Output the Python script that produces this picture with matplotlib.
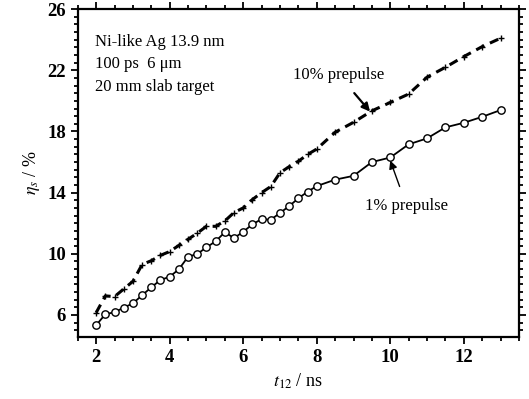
import numpy as np
import matplotlib
matplotlib.use("Agg")
import matplotlib.pyplot as plt
from matplotlib.ticker import MultipleLocator

# Data
t_1pct = [2.0, 2.25, 2.5, 2.75, 3.0, 3.25, 3.5, 3.75, 4.0, 4.25, 4.5, 4.75,
          5.0, 5.25, 5.5, 5.75, 6.0, 6.25, 6.5, 6.75, 7.0, 7.25, 7.5, 7.75,
          8.0, 8.5, 9.0, 9.5, 10.0, 10.5, 11.0, 11.5, 12.0, 12.5, 13.0]
eta_1pct = [5.33, 6.05, 6.18, 6.48, 6.76, 7.29, 7.81, 8.29, 8.50, 8.99, 9.81, 9.99,
            10.42, 10.82, 11.41, 11.03, 11.44, 11.93, 12.27, 12.23, 12.67, 13.12, 13.63, 14.06,
            14.43, 14.85, 15.10, 16.00, 16.30, 17.16, 17.55, 18.27, 18.57, 18.96, 19.40]

t_10pct = [2.0, 2.25, 2.5, 2.75, 3.0, 3.25, 3.5, 3.75, 4.0, 4.25, 4.5, 4.75,
           5.0, 5.25, 5.5, 5.75, 6.0, 6.25, 6.5, 6.75, 7.0, 7.25, 7.5, 7.75,
           8.0, 8.5, 9.0, 9.5, 10.0, 10.5, 11.0, 11.5, 12.0, 12.5, 13.0]
eta_10pct = [6.15, 7.25, 7.2, 7.7, 8.2, 9.3, 9.55, 9.9, 10.15, 10.55, 10.95, 11.35,
             11.8, 11.8, 12.15, 12.7, 13.0, 13.55, 14.0, 14.4, 15.3, 15.7, 16.05, 16.5,
             16.85, 17.95, 18.6, 19.35, 19.9, 20.45, 21.55, 22.2, 22.9, 23.55, 24.1]

plt.rcParams['font.family'] = ['Liberation Serif', 'DejaVu Serif']
plt.rcParams['mathtext.fontset'] = 'stix'

fig = plt.figure(figsize=(5.29, 3.99), dpi=100)
ax = fig.add_axes([0.147, 0.155, 0.834, 0.822])

ax.plot(t_10pct, eta_10pct, color='black', linestyle=(0, (3, 2)), linewidth=2.2,
        marker='+', markersize=5, markeredgewidth=1.0)
ax.plot(t_1pct, eta_1pct, color='black', linestyle='-', linewidth=1.3,
        marker='o', markersize=5.3, markerfacecolor='white', markeredgewidth=1.0)

ax.set_xlim(1.5, 13.5)
ax.set_ylim(4.55, 26)
ax.xaxis.set_minor_locator(MultipleLocator(0.5))
ax.yaxis.set_minor_locator(MultipleLocator(0.5))
ax.set_xticks([2, 4, 6, 8, 10, 12])
ax.set_yticks([6, 10, 14, 18, 22, 26])

ax.tick_params(which='both', direction='out', top=True, right=True, width=1.3)
ax.tick_params(which='major', length=5, labelsize=13.5)
ax.tick_params(which='minor', length=3)
for lab in ax.get_xticklabels() + ax.get_yticklabels():
    lab.set_fontweight('bold')
for s in ax.spines.values():
    s.set_linewidth(1.6)

ax.set_xlabel(r'$t_{12}$ / ns', fontsize=13)
ax.set_ylabel(r'$\eta_s$ / %', fontsize=13)

ax.text(0.04, 0.899, 'Ni-like Ag 13.9 nm', transform=ax.transAxes, fontsize=12, va='center')
ax.text(0.04, 0.832, '100 ps  6 \u03bcm', transform=ax.transAxes, fontsize=12, va='center')
ax.text(0.04, 0.762, '20 mm slab target', transform=ax.transAxes, fontsize=12, va='center')

ax.annotate('10% prepulse', xy=(9.45, 19.3), xytext=(8.6, 21.7), fontsize=12,
            ha='center', va='center',
            arrowprops=dict(arrowstyle='-|>', color='black', lw=1.6, shrinkA=7, shrinkB=0))
ax.annotate('1% prepulse', xy=(10.0, 16.1), xytext=(10.45, 13.1), fontsize=12,
            ha='center', va='center',
            arrowprops=dict(arrowstyle='-|>', color='black', lw=1.0, shrinkA=7, shrinkB=0))

fig.savefig('out.png', dpi=100)
